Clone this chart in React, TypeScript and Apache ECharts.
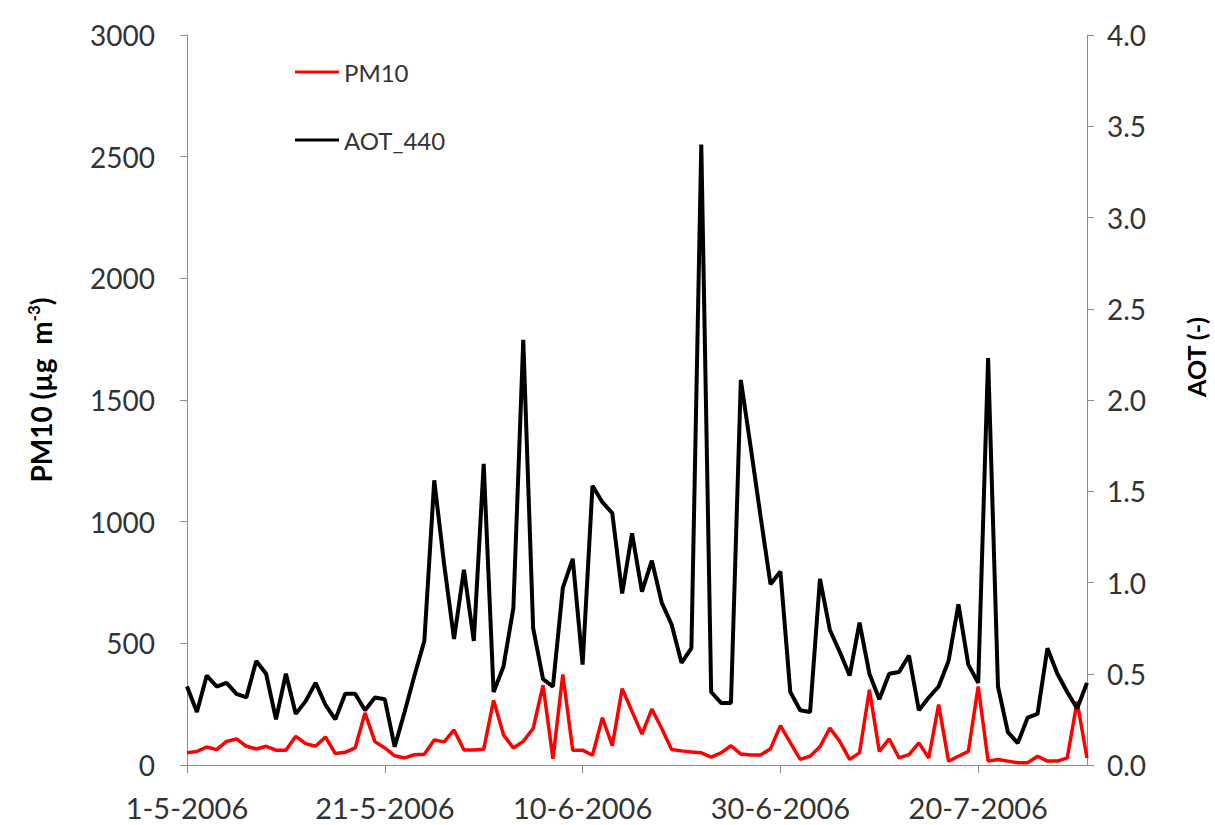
import React, { useEffect, useRef } from "react";
import * as echarts from "echarts";

// Daily dates 1-5-2006 .. 31-7-2006 (category labels)
const months: [number, number][] = [
  [5, 31],
  [6, 30],
  [7, 31],
];
const dates: string[] = [];
for (const [m, n] of months) {
  for (let d = 1; d <= n; d++) dates.push(`${d}-${m}-2006`);
}

// PM10 (µg m-3), left axis
const pm10: number[] = [
  50, 56, 74, 63, 97, 107, 77, 66, 77, 61,
  61, 118, 88, 77, 115, 47, 52, 70, 214, 96,
  70, 38, 29, 42, 44, 103, 95, 144, 62, 62,
  65, 266, 124, 70, 97, 150, 328, 26, 372, 61,
  61, 40, 194, 79, 314, 220, 127, 230, 150, 64,
  58, 53, 50, 32, 50, 79, 45, 41, 41, 67,
  162, 92, 23, 36, 75, 152, 97, 23, 50, 309,
  56, 107, 29, 43, 91, 29, 248, 16, 36, 56,
  323, 16, 23, 16, 9, 9, 36, 16, 16, 29,
  261, 29,
];

// AOT at 440 nm (-), right axis
const aot440: number[] = [
  0.43, 0.29, 0.49, 0.43, 0.45, 0.39, 0.37, 0.57, 0.5, 0.25,
  0.5, 0.28, 0.35, 0.45, 0.33, 0.25, 0.39, 0.39, 0.3, 0.37,
  0.36, 0.1, 0.29, 0.49, 0.68, 1.56, 1.1, 0.69, 1.07, 0.68,
  1.65, 0.4, 0.54, 0.86, 2.33, 0.75, 0.47, 0.43, 0.97, 1.13,
  0.55, 1.53, 1.44, 1.38, 0.94, 1.27, 0.95, 1.12, 0.89, 0.77,
  0.56, 0.64, 3.4, 0.4, 0.34, 0.34, 2.11, 1.74, 1.36, 0.99,
  1.06, 0.4, 0.3, 0.29, 1.02, 0.74, 0.62, 0.49, 0.78, 0.5,
  0.36, 0.5, 0.51, 0.6, 0.3, 0.37, 0.43, 0.57, 0.88, 0.55,
  0.45, 2.23, 0.43, 0.18, 0.12, 0.26, 0.28, 0.64, 0.5, 0.4,
  0.31, 0.45,
];

const FONT = "Lato, 'Open Sans', sans-serif";
const TEXT = "#333333";
const AXIS = "#8c8c8c";

export default function App() {
  const ref = useRef<HTMLDivElement>(null);
  useEffect(() => {
    const chart = echarts.init(ref.current!, null, { renderer: "svg" });
    const showLabel = (i: number) => i % 20 === 0;
    chart.setOption({
      animation: false,
      backgroundColor: "#ffffff",
      textStyle: { fontFamily: FONT },
      grid: { left: 187, right: 128, top: 35, bottom: 60, containLabel: false },
      legend: {
        orient: "vertical",
        left: 290,
        top: 55,
        itemGap: 44,
        itemWidth: 44,
        itemHeight: 3,
        icon: "rect",
        textStyle: { fontSize: 24, lineHeight: 24, color: TEXT, fontFamily: FONT },
        data: ["PM10", "AOT_440"],
      },
      xAxis: {
        type: "category",
        data: dates,
        boundaryGap: false,
        axisLine: { lineStyle: { color: AXIS, width: 1 } },
        axisTick: { show: true, interval: showLabel, length: 8, lineStyle: { color: AXIS } },
        axisLabel: {
          interval: showLabel,
          margin: 28,
          fontSize: 29,
          color: TEXT,
          fontFamily: FONT,
        },
        splitLine: { show: false },
      },
      yAxis: [
        {
          type: "value",
          min: 0,
          max: 3000,
          interval: 500,
          position: "left",
          axisLine: { show: true, lineStyle: { color: AXIS, width: 1 } },
          axisTick: { show: true, length: 7, lineStyle: { color: AXIS } },
          axisLabel: {
            margin: 32,
            fontSize: 28,
            color: TEXT,
            fontFamily: FONT,
            formatter: (v: number) => String(v),
          },
          splitLine: { show: false },
        },
        {
          type: "value",
          min: 0,
          max: 4,
          interval: 0.5,
          position: "right",
          axisLine: { show: true, lineStyle: { color: AXIS, width: 1 } },
          axisTick: { show: true, length: 7, lineStyle: { color: AXIS } },
          axisLabel: {
            margin: 20,
            fontSize: 28,
            color: TEXT,
            fontFamily: FONT,
            formatter: (v: number) => v.toFixed(1),
          },
          splitLine: { show: false },
        },
      ],
      graphic: [
        {
          type: "text",
          x: 41,
          y: 390,
          rotation: Math.PI / 2,
          style: {
            text: "{a|PM10 (µg  m}{s|-3}{a|)}",
            align: "center",
            verticalAlign: "middle",
            fill: "#000",
            rich: {
              a: { fontSize: 28, fontWeight: "bold", fontFamily: FONT, fill: "#000" },
              s: { fontSize: 17, fontWeight: "bold", fontFamily: FONT, fill: "#000", padding: [0, 0, 15, 0] },
            },
          },
        },
        {
          type: "text",
          x: 1196,
          y: 357,
          rotation: Math.PI / 2,
          style: {
            text: "AOT (-)",
            align: "center",
            verticalAlign: "middle",
            fill: "#000",
            font: `bold 25px ${FONT}`,
          },
        },
      ],
      series: [
        {
          name: "PM10",
          type: "line",
          yAxisIndex: 0,
          data: pm10,
          symbol: "none",
          lineStyle: { color: "#ff0000", width: 3.5 },
          itemStyle: { color: "#ff0000" },
        },
        {
          name: "AOT_440",
          type: "line",
          yAxisIndex: 1,
          data: aot440,
          symbol: "none",
          lineStyle: { color: "#000000", width: 4 },
          itemStyle: { color: "#000000" },
        },
      ],
    });
    return () => chart.dispose();
  }, []);
  return (
    <div
      ref={ref}
      style={{ position: "fixed", left: 0, top: 0, width: 1215, height: 825, background: "#fff" }}
    />
  );
}
